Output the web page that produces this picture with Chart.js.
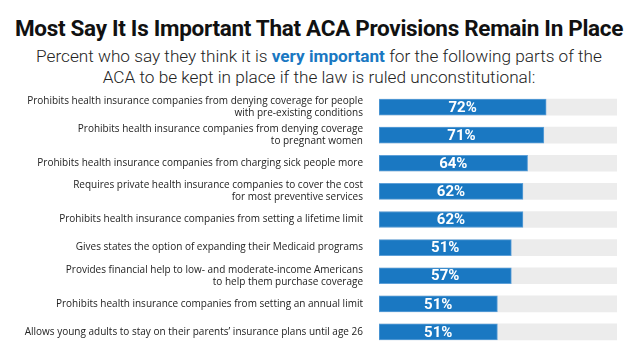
<!DOCTYPE html>
<html>
<head>
<meta charset="utf-8">
<script src="https://cdn.jsdelivr.net/npm/chart.js@4.4.1/dist/chart.umd.min.js"></script>
<style>
  html, body { margin: 0; padding: 0; background: #fff; width: 638px; height: 358px; overflow: hidden; }
  #title { position: absolute; left: 0; top: 15px; width: 638px; text-align: center;
    font-family: Roboto, sans-serif; font-weight: 700; font-size: 22.5px; color: #111; letter-spacing: -0.3px; }
  #sub { position: absolute; left: 0; top: 46px; width: 638px; text-align: center;
    font-family: Roboto, sans-serif; font-weight: 300; font-size: 17.2px; line-height: 21px; color: #222; }
  #sub b { color: #1a78c2; font-weight: 700; }
  #c { position: absolute; left: 0; top: 88px; }
</style>
</head>
<body>
<div id="title">Most Say It Is Important That ACA Provisions Remain In Place</div>
<div id="sub">Percent who say they think it is <b>very important</b> for the following parts of the<br>ACA to be kept in place if the law is ruled unconstitutional:</div>
<canvas id="c" width="638" height="270"></canvas>
<script>
const categories = [
  ["Prohibits health insurance companies from denying coverage for people", "with pre-existing conditions"],
  ["Prohibits health insurance companies from denying coverage", "to pregnant women"],
  "Prohibits health insurance companies from charging sick people more",
  ["Requires private health insurance companies to cover the cost", "for most preventive services"],
  "Prohibits health insurance companies from setting a lifetime limit",
  "Gives states the option of expanding their Medicaid programs",
  ["Provides financial help to low- and moderate-income Americans", "to help them purchase coverage"],
  "Prohibits health insurance companies from setting an annual limit",
  "Allows young adults to stay on their parents\u2019 insurance plans until age 26"
];
const veryImportant = [72, 71, 64, 62, 62, 57, 57, 51, 51];
const valueLabels = ["72%", "71%", "64%", "62%", "62%", "51%", "57%", "51%", "51%"];
const trackMax = 102.5;
const track = categories.map(() => trackMax);

const barLabels = {
  id: 'barLabels',
  afterDatasetsDraw(chart) {
    const ctx = chart.ctx;
    const meta = chart.getDatasetMeta(0);
    ctx.save();
    ctx.fillStyle = '#fff';
    ctx.font = '700 15px Roboto, sans-serif';
    ctx.textAlign = 'center';
    ctx.textBaseline = 'middle';
    meta.data.forEach((bar, i) => {
      const cx = (bar.x + bar.base) / 2;
      ctx.fillText(valueLabels[i], cx, bar.y + 1);
    });
    ctx.restore();
  }
};

new Chart(document.getElementById('c'), {
  type: 'bar',
  data: {
    labels: categories,
    datasets: [
      { data: veryImportant, backgroundColor: '#1a78c2', borderColor: '#5ea0d8', borderWidth: 1, borderSkipped: false, grouped: false, barThickness: 16, order: 0 },
      { data: track, backgroundColor: '#ececec', borderWidth: 0, grouped: false, barThickness: 16, order: 1 }
    ]
  },
  options: {
    indexAxis: 'y',
    responsive: false,
    animation: false,
    events: [],
    layout: { padding: { top: 5, bottom: 12, left: 0, right: 21 } },
    plugins: { legend: { display: false }, tooltip: { enabled: false } },
    scales: {
      x: { display: false, min: 0, max: trackMax },
      y: {
        grid: { display: false, drawTicks: false },
        border: { display: false },
        afterFit(scale) { scale.width = 379; scale.paddingTop = 0; scale.paddingBottom = 0; },
        ticks: {
          padding: 16,
          color: '#222',
          font: { family: '"Open Sans", sans-serif', size: 10, lineHeight: 1.2 },
          autoSkip: false
        }
      }
    }
  },
  plugins: [barLabels]
});
</script>
</body>
</html>
